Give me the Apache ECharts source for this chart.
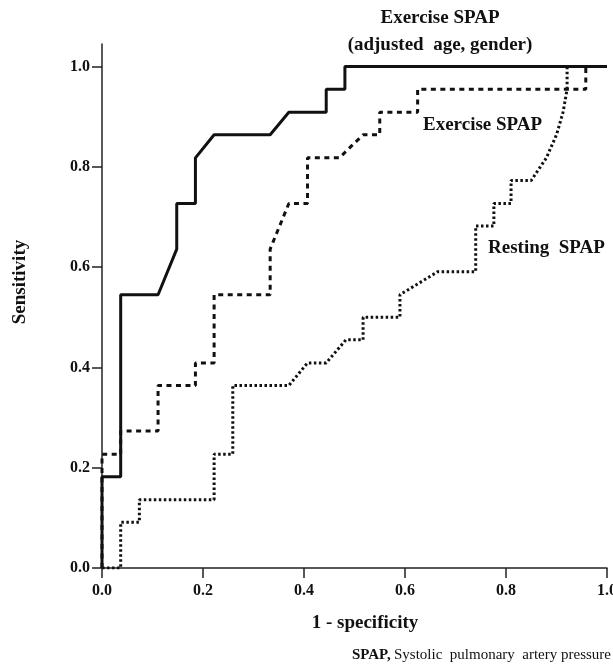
<!DOCTYPE html>
<html>
<head>
<meta charset="utf-8">
<script src="https://cdn.jsdelivr.net/npm/echarts@6/dist/echarts.min.js"></script>
<style>
html,body{margin:0;padding:0;background:#fff;}
#chart{width:613px;height:668px;}
</style>
</head>
<body>
<div id="chart"></div>
<script>
// ---- Data ----
const xTicks = [0, 0.2, 0.4, 0.6, 0.8, 1.0];
const yTicks = [0, 0.2, 0.4, 0.6, 0.8, 1.0];

// Exercise SPAP (adjusted age, gender) - solid
const adjX = [0, 0, 0.037, 0.037, 0.111, 0.148, 0.148, 0.185, 0.185, 0.222, 0.333, 0.370, 0.444, 0.444, 0.481, 0.481, 1.0];
const adjY = [0, 0.182, 0.182, 0.545, 0.545, 0.636, 0.727, 0.727, 0.818, 0.864, 0.864, 0.909, 0.909, 0.955, 0.955, 1.0, 1.0];

// Exercise SPAP - dashed
const exX = [0, 0, 0.037, 0.037, 0.111, 0.111, 0.185, 0.185, 0.222, 0.222, 0.333, 0.333, 0.370, 0.407, 0.407, 0.470, 0.517, 0.550, 0.550, 0.625, 0.625, 0.958, 0.958, 1.0];
const exY = [0, 0.227, 0.227, 0.273, 0.273, 0.364, 0.364, 0.409, 0.409, 0.545, 0.545, 0.636, 0.727, 0.727, 0.818, 0.818, 0.864, 0.864, 0.909, 0.909, 0.955, 0.955, 1.0, 1.0];

// Resting SPAP - dotted
const restX = [0, 0.037, 0.037, 0.074, 0.074, 0.222, 0.222, 0.259, 0.259, 0.370, 0.407, 0.444, 0.483, 0.517, 0.517, 0.590, 0.590, 0.665, 0.740, 0.740, 0.776, 0.776, 0.810, 0.810, 0.850, 0.880, 0.900, 0.913, 0.921, 0.921, 1.0];
const restY = [0, 0, 0.091, 0.091, 0.136, 0.136, 0.227, 0.227, 0.364, 0.364, 0.409, 0.409, 0.455, 0.455, 0.5, 0.5, 0.545, 0.591, 0.591, 0.682, 0.682, 0.727, 0.727, 0.773, 0.773, 0.818, 0.864, 0.909, 0.955, 1.0, 1.0];

const zip = (xs, ys) => xs.map((x, i) => [x, ys[i]]);

const SERIF = '"Liberation Serif", "DejaVu Serif", serif';

const chart = echarts.init(document.getElementById('chart'), null, {renderer: 'canvas'});

const axisCommon = {
  type: 'value',
  min: 0,
  interval: 0.2,
  splitLine: {show: false},
  axisLine: {show: true, lineStyle: {color: '#222', width: 1.5}},
  axisTick: {show: true, length: 10, lineStyle: {color: '#222', width: 1.5}},
  axisLabel: {
    color: '#111',
    fontFamily: SERIF,
    fontWeight: 'bold',
    fontSize: 16,
    formatter: v => v.toFixed(1)
  }
};

chart.setOption({
  animation: false,
  backgroundColor: '#fff',
  grid: {left: 102, right: 6, top: 44, bottom: 100, containLabel: false, outerBoundsMode: 'none'},
  xAxis: Object.assign({}, axisCommon, {
    max: 1.0,
    axisTick: Object.assign({}, axisCommon.axisTick, {customValues: xTicks}),
    axisLabel: Object.assign({}, axisCommon.axisLabel, {margin: 15, customValues: xTicks})
  }),
  yAxis: Object.assign({}, axisCommon, {
    max: 1.045,
    axisTick: Object.assign({}, axisCommon.axisTick, {customValues: yTicks}),
    axisLabel: Object.assign({}, axisCommon.axisLabel, {margin: 12, customValues: yTicks})
  }),
  series: [
    {
      name: 'Resting SPAP', type: 'line', symbol: 'none', z: 2,
      data: zip(restX, restY),
      lineStyle: {color: '#111', width: 3, type: [2.5, 2.5]}
    },
    {
      name: 'Exercise SPAP', type: 'line', symbol: 'none', z: 3,
      data: zip(exX, exY),
      lineStyle: {color: '#111', width: 3, type: [5, 4.5]}
    },
    {
      name: 'Exercise SPAP (adjusted age, gender)', type: 'line', symbol: 'none', z: 4,
      data: zip(adjX, adjY),
      lineStyle: {color: '#111', width: 3, type: 'solid'}
    }
  ],
  graphic: [
    {type: 'text', x: 440, y: 18, style: {text: 'Exercise SPAP', font: 'bold 19px ' + SERIF, fill: '#111', align: 'center', verticalAlign: 'middle'}},
    {type: 'text', x: 440, y: 45, style: {text: '(adjusted  age, gender)', font: 'bold 19px ' + SERIF, fill: '#111', align: 'center', verticalAlign: 'middle'}},
    {type: 'text', x: 423, y: 125, style: {text: 'Exercise SPAP', font: 'bold 19px ' + SERIF, fill: '#111', align: 'left', verticalAlign: 'middle'}},
    {type: 'text', x: 488, y: 248, style: {text: 'Resting  SPAP', font: 'bold 19px ' + SERIF, fill: '#111', align: 'left', verticalAlign: 'middle'}},
    {type: 'text', x: 20, y: 282, rotation: Math.PI / 2, style: {text: 'Sensitivity', font: 'bold 19px ' + SERIF, fill: '#111', align: 'center', verticalAlign: 'middle'}},
    {type: 'text', x: 365, y: 623, style: {text: '1 - specificity', font: 'bold 19px ' + SERIF, fill: '#111', align: 'center', verticalAlign: 'middle'}},
    {type: 'text', x: 611, y: 655, style: {
      text: '{b|SPAP,} {n|Systolic  pulmonary  artery pressure}',
      align: 'right', verticalAlign: 'middle',
      rich: {
        b: {font: 'bold 15px ' + SERIF, fill: '#111'},
        n: {font: '15px ' + SERIF, fill: '#111'}
      }
    }}
  ]
});
</script>
</body>
</html>
